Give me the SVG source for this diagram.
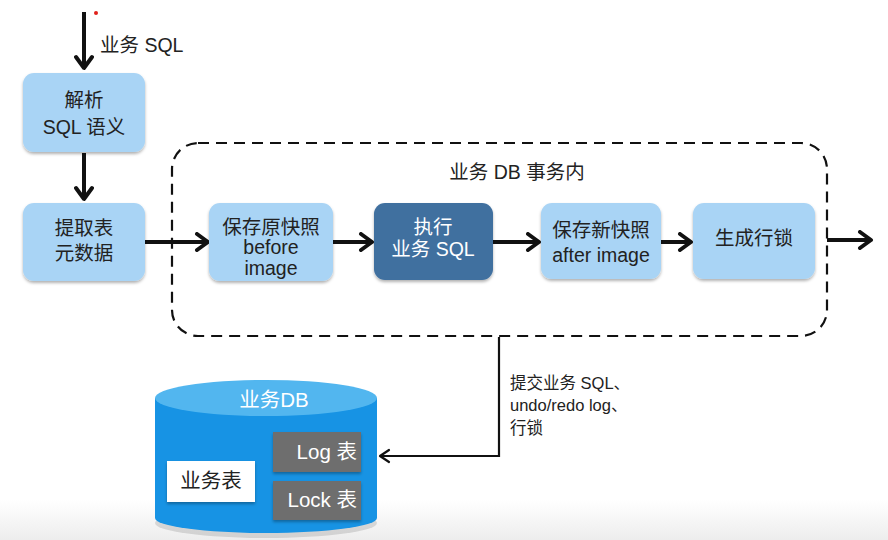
<svg xmlns="http://www.w3.org/2000/svg" width="888" height="540" viewBox="0 0 888 540">
<defs>
<marker id="ah" markerUnits="userSpaceOnUse" markerWidth="18" markerHeight="20" viewBox="0 0 18 20" refX="14" refY="10" orient="auto">
<path d="M3,2 L14,10 L3,18" fill="none" stroke="#111" stroke-width="4" stroke-linecap="round" stroke-linejoin="round"/>
</marker>
<marker id="ahs" markerUnits="userSpaceOnUse" markerWidth="14" markerHeight="16" viewBox="0 0 14 16" refX="12" refY="8" orient="auto">
<path d="M3,2 L12,8 L3,14" fill="none" stroke="#111" stroke-width="2.2" stroke-linecap="round" stroke-linejoin="round"/>
</marker>
<filter id="sh" x="-10%" y="-10%" width="120%" height="130%">
<feDropShadow dx="0" dy="2" stdDeviation="1.5" flood-color="#000" flood-opacity="0.3"/>
</filter>
<linearGradient id="bg" x1="0" y1="0" x2="0" y2="1">
<stop offset="0" stop-color="#ffffff"/>
<stop offset="1" stop-color="#ededed"/>
</linearGradient>
</defs>
<style>
text{font-family:"Liberation Sans","Noto Sans CJK SC",sans-serif;font-size:19.5px;fill:#222;}
.c{text-anchor:middle;}
.lb{fill:#a9d4f5;filter:url(#sh);}
.dk{fill:#3f6f9f;filter:url(#sh);}
.w{fill:#fff;}
.db{font-size:20.5px;}
.sm{font-size:16.5px;}
.thick{stroke:#111;stroke-width:4;fill:none;}
.gray{fill:#6e6e6e;filter:url(#sh);}
</style>
<rect x="0" y="0" width="888" height="540" fill="#fff"/>
<rect x="0" y="500" width="888" height="40" fill="url(#bg)"/>
<circle cx="96" cy="13" r="2" fill="#e0201a"/>

<g id="container">
<rect x="172" y="143" width="655" height="193" rx="26" fill="none" stroke="#111" stroke-width="2.2" stroke-dasharray="11,7"/>
<text class="c" x="517" y="179">业务 DB 事务内</text>
</g>

<g id="connectors">
<line class="thick" x1="84" y1="12" x2="84" y2="68" marker-end="url(#ah)"/>
<line class="thick" x1="84" y1="153" x2="84" y2="199" marker-end="url(#ah)"/>
<line class="thick" x1="145" y1="242" x2="208" y2="242" marker-end="url(#ah)"/>
<line class="thick" x1="333" y1="242" x2="372" y2="242" marker-end="url(#ah)"/>
<line class="thick" x1="493" y1="242" x2="539" y2="242" marker-end="url(#ah)"/>
<line class="thick" x1="661" y1="242" x2="691" y2="242" marker-end="url(#ah)"/>
<line class="thick" x1="827" y1="240" x2="871" y2="240" marker-end="url(#ah)"/>
<polyline points="499,337 499,456 380,456" fill="none" stroke="#111" stroke-width="2.2" marker-end="url(#ahs)"/>
<text x="100" y="52">业务 SQL</text>
<text class="sm" x="510" y="389">提交业务 SQL、</text>
<text class="sm" x="510" y="411">undo/redo log、</text>
<text class="sm" x="510" y="434">行锁</text>
</g>

<g id="parse">
<rect class="lb" x="23" y="73" width="122" height="79" rx="11"/>
<text class="c" x="84" y="107">解析</text>
<text class="c" x="84" y="134">SQL 语义</text>
</g>
<g id="meta">
<rect class="lb" x="23" y="203" width="122" height="78" rx="11"/>
<text class="c" x="84" y="235">提取表</text>
<text class="c" x="84" y="260">元数据</text>
</g>
<g id="before">
<rect class="lb" x="209" y="203" width="124" height="78" rx="11"/>
<text class="c" x="271" y="234">保存原快照</text>
<text class="c" x="271" y="254">before</text>
<text class="c" x="271" y="275">image</text>
</g>
<g id="exec">
<rect class="dk" x="374" y="203" width="119" height="77" rx="11"/>
<text class="c w" x="433" y="234">执行</text>
<text class="c w" x="433" y="256">业务 SQL</text>
</g>
<g id="after">
<rect class="lb" x="541" y="203" width="120" height="76" rx="11"/>
<text class="c" x="601" y="237">保存新快照</text>
<text class="c" x="601" y="262">after image</text>
</g>
<g id="lock">
<rect class="lb" x="693" y="203" width="122" height="76" rx="11"/>
<text class="c" x="754" y="245">生成行锁</text>
</g>

<g id="db">
<ellipse cx="266" cy="520" rx="111" ry="15" fill="#000" opacity="0.12" transform="translate(0,3)"/>
<path d="M155,398 L155,518 A111,15 0 0 0 377,518 L377,398 Z" fill="#1793e4"/>
<ellipse cx="266" cy="398" rx="111" ry="18" fill="#52b6ef"/>
<text class="c w db" x="274" y="407">业务DB</text>
<rect x="167" y="461" width="88" height="41" fill="#fff" filter="url(#sh)"/>
<text class="c db" x="211" y="488">业务表</text>
<rect class="gray" x="273" y="432" width="88" height="40"/>
<text class="w db" x="357" y="459" text-anchor="end">Log 表</text>
<rect class="gray" x="273" y="481" width="88" height="39"/>
<text class="w db" x="357" y="507" text-anchor="end">Lock 表</text>
</g>
</svg>
